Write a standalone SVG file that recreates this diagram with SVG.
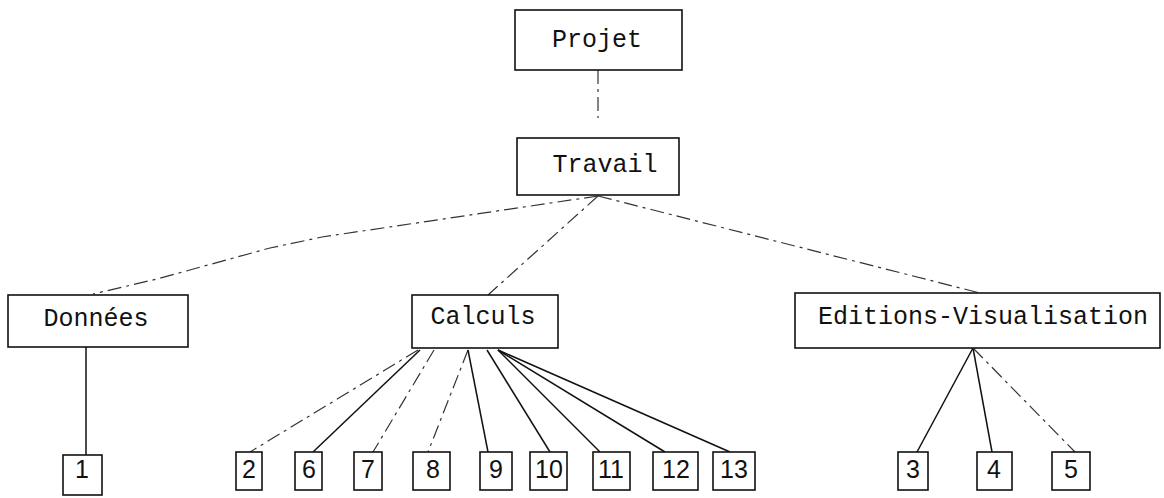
<svg xmlns="http://www.w3.org/2000/svg" width="1164" height="498" viewBox="0 0 1164 498">
<style>
.box{fill:#fff;stroke:#111;stroke-width:1.6}
.lbl{font-family:"Liberation Mono","DejaVu Sans Mono",monospace;font-size:25px;fill:#111;text-anchor:middle}
.num{font-family:"Liberation Sans","DejaVu Sans",sans-serif;font-size:25px;fill:#111;text-anchor:middle}
.ln{stroke:#111;stroke-width:1.5;fill:none}
.fa{stroke:#333;stroke-width:1.2;fill:none;stroke-dasharray:14 5 3 5}
</style>
<rect width="1164" height="498" fill="#fff"/>
<g id="connectors">
<line class="fa" x1="598" y1="70" x2="598" y2="118"/>
<path class="fa" d="M598,196 L322,237 L270,248 L157,279 L93,294"/>
<line class="fa" x1="598" y1="196" x2="488" y2="295"/>
<line class="fa" x1="598" y1="196" x2="980" y2="293"/>
<line class="ln" x1="86" y1="347" x2="86" y2="455"/>
<line class="fa" x1="418" y1="350" x2="250" y2="452"/>
<line class="ln" x1="420" y1="350" x2="313" y2="452"/>
<line class="fa" x1="434" y1="350" x2="373" y2="452"/>
<line class="fa" x1="468" y1="350" x2="428" y2="452"/>
<line class="ln" x1="468" y1="350" x2="488" y2="452"/>
<line class="ln" x1="487" y1="350" x2="550" y2="452"/>
<line class="ln" x1="498" y1="350" x2="600" y2="452"/>
<line class="ln" x1="498" y1="350" x2="665" y2="452"/>
<line class="ln" x1="498" y1="350" x2="730" y2="452"/>
<line class="ln" x1="973" y1="348" x2="917" y2="452"/>
<line class="ln" x1="973" y1="348" x2="992" y2="452"/>
<line class="fa" x1="973" y1="348" x2="1075" y2="452"/>
</g>
<g id="projet"><rect class="box" x="515" y="10" width="167" height="60"/><text class="lbl" x="597" y="47">Projet</text></g>
<g id="travail"><rect class="box" x="517" y="138" width="162" height="57"/><text class="lbl" x="605" y="172">Travail</text></g>
<g id="donnees"><rect class="box" x="8" y="295" width="180" height="52"/><text class="lbl" x="96" y="326">Données</text></g>
<g id="calculs"><rect class="box" x="412" y="295" width="146" height="53"/><text class="lbl" x="483" y="324">Calculs</text></g>
<g id="editions"><rect class="box" x="795" y="293" width="365" height="55"/><text class="lbl" x="983" y="324">Editions-Visualisation</text></g>
<g id="n1"><rect class="box" x="63" y="455" width="39" height="40"/><text class="num" x="82" y="478">1</text></g>
<g id="n2"><rect class="box" x="236" y="452" width="26" height="38"/><text class="num" x="249" y="478">2</text></g>
<g id="n6"><rect class="box" x="295" y="452" width="27" height="38"/><text class="num" x="309" y="478">6</text></g>
<g id="n7"><rect class="box" x="354" y="452" width="28" height="38"/><text class="num" x="368" y="478">7</text></g>
<g id="n8"><rect class="box" x="413" y="452" width="37" height="38"/><text class="num" x="433" y="478">8</text></g>
<g id="n9"><rect class="box" x="480" y="452" width="32" height="38"/><text class="num" x="496" y="478">9</text></g>
<g id="n10"><rect class="box" x="530" y="452" width="37" height="38"/><text class="num" x="549" y="478">10</text></g>
<g id="n11"><rect class="box" x="593" y="452" width="37" height="38"/><text class="num" x="611" y="478">11</text></g>
<g id="n12"><rect class="box" x="653" y="452" width="45" height="38"/><text class="num" x="676" y="478">12</text></g>
<g id="n13"><rect class="box" x="713" y="452" width="42" height="38"/><text class="num" x="734" y="478">13</text></g>
<g id="n3"><rect class="box" x="898" y="452" width="30" height="38"/><text class="num" x="913" y="478">3</text></g>
<g id="n4"><rect class="box" x="977" y="452" width="35" height="38"/><text class="num" x="994" y="478">4</text></g>
<g id="n5"><rect class="box" x="1052" y="452" width="38" height="38"/><text class="num" x="1071" y="478">5</text></g>
</svg>
